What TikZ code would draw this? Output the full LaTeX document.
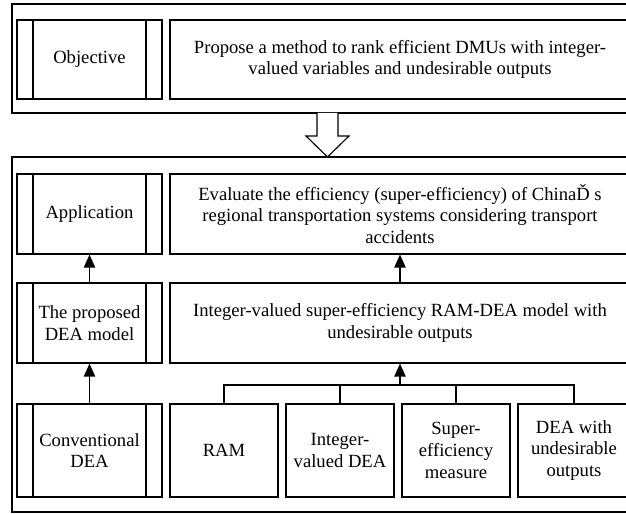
\documentclass[tikz,border=0pt]{standalone}
\usepackage{fontspec}
\setmainfont{Liberation Serif}
\usetikzlibrary{
  arrows.meta,
  positioning
}

\begin{document}
\begin{tikzpicture}[
    >={Triangle[width=6.5pt,length=7.5pt]},
    font=\fontsize{10.6}{12.3}\selectfont,
    caixa/.style={draw, line width=0.65pt, align=center, inner sep=0pt,
      minimum height=1.6cm},
    lateral/.style={caixa, minimum width=2.9cm,
      path picture={
        \draw[line width=0.65pt]
        ([xshift=0.32cm]path picture bounding box.north west)--
        ([xshift=0.32cm]path picture bounding box.south west);
        \draw[line width=0.65pt]
        ([xshift=-0.32cm]path picture bounding box.north east)--
        ([xshift=-0.32cm]path picture bounding box.south east);
      }},
    base/.style={caixa, minimum width=2.16cm, minimum height=1.86cm},
    seta/.style={->, line width=0.85pt}
    ]
    
    % moldura
    \clip (0,0) rectangle (12.52,10.28);
    
    % caixas externas
    \node[caixa, minimum width=12.46cm, minimum height=2.18cm]
    (topo) at (6.47,9.11) {};
    
    \node[caixa, minimum width=12.46cm, minimum height=7.10cm]
    (corpo) at (6.47,3.59) {};
    
    % objetivo
    \node[lateral, minimum height=1.58cm] (objetivo) at (1.79,9.09)
    {Objective};
    
    \node[caixa, minimum width=9.2cm, minimum height=1.58cm]
    (proposta) at (8.00,9.09)
    {Propose a method to rank efficient DMUs with integer-\\
    valued variables and undesirable outputs};
    
    % seta grande
    \draw[line width=0.65pt, fill=white]
    (6.34,8.02)--(6.34,7.56)--(6.12,7.56)--(6.55,7.14)
    --(6.98,7.56)--(6.76,7.56)--(6.76,8.02);
    
    % aplicação
    \node[lateral] (aplicacao) at (1.79,6.00)
    {Application};
    
    \node[caixa, minimum width=9.2cm] (avaliacao) at (8.00,6.00)
    {Evaluate the efficiency (super-efficiency) of ChinaĎ s\\
    regional transportation systems considering transport\\
    accidents};
    
    % modelo
    \node[lateral] (proposto) at (1.79,3.82)
    {The proposed\\DEA model};
    
    \node[caixa, minimum width=9.2cm] (modelo) at (8.00,3.82)
    {Integer-valued super-efficiency RAM-DEA model with\\
    undesirable outputs};
    
    % base
    \node[lateral, minimum height=1.86cm] (convencional) at (1.79,1.27)
    {Conventional\\DEA};
    
    \node[base] (ram) at (4.48,1.27) {RAM};
    \node[base] (inteiro) at (6.80,1.27) {Integer-\\valued DEA};
    \node[base] (super) at (9.12,1.27) {Super-\\efficiency\\measure};
    \node[base, minimum width=2.24cm] (indesej) at (11.48,1.27)
    {DEA with\\undesirable\\outputs};
    
    % ligações
    \coordinate (juncao) at (modelo.south |- 0,2.58);
    
    \draw[line width=0.85pt]
    (ram.north) |- (indesej.north |- juncao) -- (indesej.north);
    \draw[line width=0.85pt] (inteiro.north) -- (inteiro.north |- juncao);
    \draw[line width=0.85pt] (super.north) -- (super.north |- juncao);
    
    \draw[seta] (juncao) -- (modelo.south);
    \draw[seta] (modelo) -- (avaliacao);
    \draw[seta] (convencional) -- (proposto);
    \draw[seta] (proposto) -- (aplicacao);
    
\end{tikzpicture}
\end{document}
